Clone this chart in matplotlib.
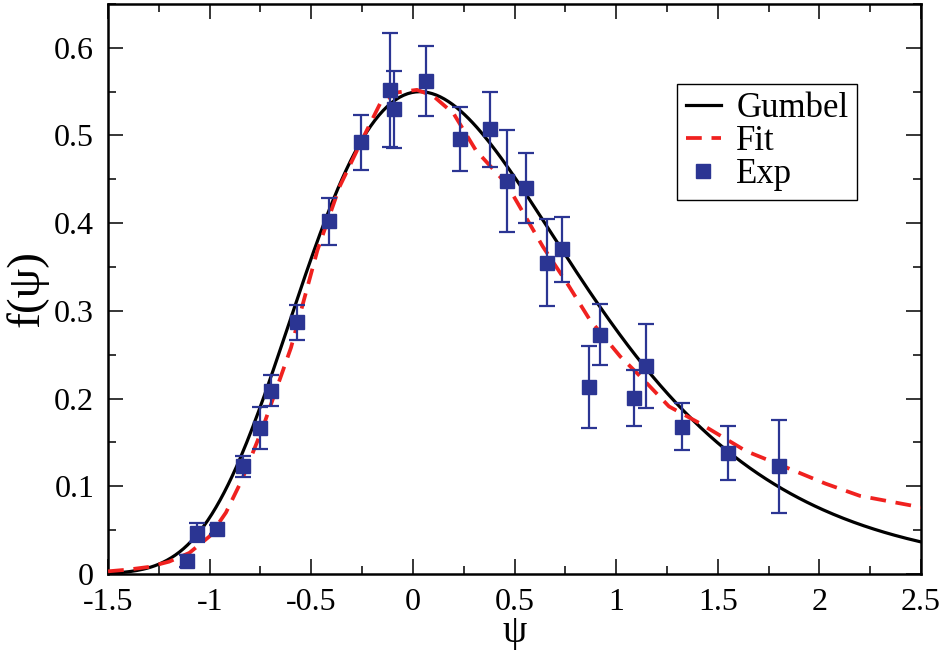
import numpy as np
import matplotlib

matplotlib.use('Agg')
import matplotlib.pyplot as plt
import matplotlib.transforms as mtransforms
from matplotlib.lines import Line2D
from matplotlib.ticker import MultipleLocator, FormatStrFormatter

# experimental histogram with error bars
exp_psi = [-1.112, -1.063, -0.964, -0.836, -0.753, -0.699, -0.571, -0.413,
           -0.257, -0.113, -0.093, 0.064, 0.231, 0.379, 0.462, 0.554,
           0.659, 0.735, 0.866, 0.923, 1.087, 1.145, 1.322, 1.551, 1.802]
exp_f = [0.015, 0.047, 0.051, 0.123, 0.166, 0.209, 0.287, 0.402,
         0.492, 0.552, 0.530, 0.562, 0.496, 0.507, 0.448, 0.440,
         0.355, 0.370, 0.213, 0.273, 0.201, 0.237, 0.168, 0.138, 0.123]
exp_err = [0.007, 0.011, 0.005, 0.012, 0.024, 0.018, 0.020, 0.027,
           0.031, 0.065, 0.044, 0.040, 0.037, 0.043, 0.058, 0.040,
           0.050, 0.037, 0.047, 0.035, 0.032, 0.048, 0.027, 0.031, 0.053]

# fitted curve
fit_psi = [-1.5, -1.4, -1.3, -1.2, -1.1, -1.0, -0.92, -0.84, -0.74, -0.6,
           -0.47, -0.36, -0.25, -0.16, -0.08, 0.02, 0.1, 0.2, 0.31, 0.46,
           0.64, 0.76, 0.87, 1.02, 1.12, 1.26, 1.41, 1.64, 1.8, 2.03, 2.2, 2.5]
fit_f = [0.003, 0.005, 0.008, 0.014, 0.024, 0.043, 0.070, 0.108, 0.166, 0.258,
         0.369, 0.442, 0.495, 0.537, 0.549, 0.552, 0.545, 0.525, 0.483, 0.445,
         0.373, 0.331, 0.290, 0.248, 0.225, 0.191, 0.172, 0.140, 0.125, 0.103,
         0.089, 0.076]

# Gumbel parameters (mode and scale)
gumbel_mode = 0.034
gumbel_scale = 0.669

blue = '#2b3593'
red = '#f0211f'
fit_dashes = (4.2, 2.6)

plt.rcParams['font.family'] = ['Liberation Serif', 'DejaVu Serif']
plt.rcParams['axes.unicode_minus'] = False

fig = plt.figure(figsize=(9.48, 6.5), dpi=100)
ax = fig.add_axes([0.114, 0.117, 0.8575, 0.877])

psi = np.linspace(-1.5, 2.5, 400)
z = (psi - gumbel_mode) / gumbel_scale
gumbel = np.exp(-(z + np.exp(-z))) / gumbel_scale

ax.plot(psi, gumbel, color='black', lw=2.3, zorder=3)
ax.plot(fit_psi, fit_f, color=red, lw=2.7, dashes=fit_dashes, zorder=4)
ax.errorbar(exp_psi, exp_f, yerr=exp_err, fmt='s', color=blue, ms=9.5,
            mec=blue, mfc=blue, elinewidth=1.6, capsize=6, capthick=1.6,
            zorder=5)

ax.set_xlim(-1.5, 2.5)
ax.set_ylim(0, 0.65)
ax.xaxis.set_major_locator(MultipleLocator(0.5))
ax.xaxis.set_minor_locator(MultipleLocator(0.25))
ax.yaxis.set_major_locator(MultipleLocator(0.1))
ax.yaxis.set_minor_locator(MultipleLocator(0.05))
ax.xaxis.set_major_formatter(FormatStrFormatter('%g'))
ax.yaxis.set_major_formatter(FormatStrFormatter('%g'))

ax.tick_params(which='both', direction='in', top=True, right=True,
               width=1.1, labelsize=23)
ax.tick_params(axis='y', pad=10)
ax.tick_params(axis='x', pad=10)
ax.tick_params(which='major', length=11)
ax.tick_params(which='minor', length=6)
for s in ax.spines.values():
    s.set_linewidth(1.8)

# lift the y "0" a little so it clears the "-1.5" below it
zero_lbl = ax.yaxis.get_major_ticks()[0].label1
zero_lbl.set_transform(zero_lbl.get_transform() +
                       mtransforms.ScaledTranslation(0, 4 / 72,
                                                     fig.dpi_scale_trans))

ax.set_xlabel('ψ', fontsize=28, labelpad=-2)
ax.set_ylabel('f(ψ)', fontsize=34, labelpad=4)

handles = [
    Line2D([], [], color='black', lw=2.3),
    Line2D([], [], color=red, lw=2.7, dashes=fit_dashes),
    Line2D([], [], ls='none', marker='s', color=blue, ms=9.5),
]
leg = ax.legend(handles, ['Gumbel', 'Fit', 'Exp'], loc='upper left',
                bbox_to_anchor=(0.70, 0.86), borderaxespad=0, fontsize=25,
                frameon=True, fancybox=False, handlelength=1.0,
                handletextpad=0.45, labelspacing=0.0, borderpad=0.25,
                numpoints=1)
leg.get_frame().set_edgecolor('black')
leg.get_frame().set_linewidth(1.0)
leg.get_frame().set_alpha(1)

plt.savefig('out.png', dpi=100)
